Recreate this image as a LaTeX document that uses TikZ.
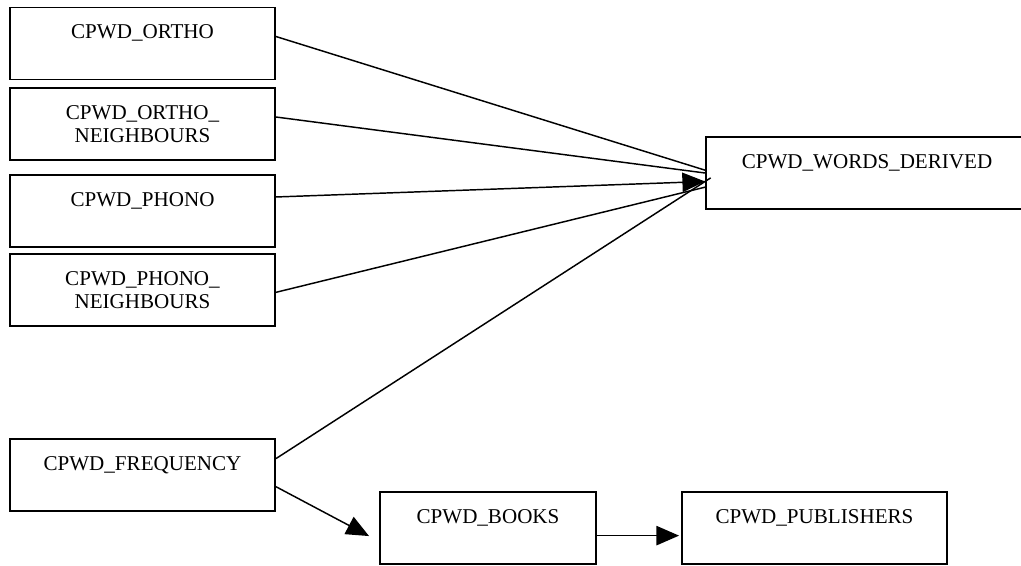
\documentclass[tikz,border=0pt]{standalone}
\usepackage{fontspec}
\setmainfont{Liberation Serif}
\usetikzlibrary{arrows.meta}

\begin{document}
\begin{tikzpicture}[x=0.75pt,y=-0.75pt, % pixel units of the reference
  tbl/.style={draw, line width=1.4pt, inner sep=0pt, align=center,
    minimum width=198.75pt, minimum height=54pt,
    font=\fontsize{15.8pt}{17.25pt}\selectfont},
  lnk/.style={line width=1.1pt},
  arr/.style={lnk, -{Triangle[length=17pt,width=14.5pt]}}]

\useasboundingbox (0,0) rectangle (1021,565);

\node[tbl] (ortho)   at (142.5,43.5) {CPWD\_ORTHO\\\phantom{N}};
\node[tbl] (orthonb) at (142.5,124)  {CPWD\_ORTHO\_\\NEIGHBOURS};
\node[tbl] (phono)   at (142.5,211)  {CPWD\_PHONO\\\phantom{N}};
\node[tbl] (phononb) at (142.5,290)  {CPWD\_PHONO\_\\NEIGHBOURS};
\node[tbl] (freq)    at (142.5,475)  {CPWD\_FREQUENCY\\\phantom{N}};

\node[tbl, minimum width=241.5pt] (derived) at (867,173) {CPWD\_WORDS\_DERIVED\\\phantom{N}};
\node[tbl, minimum width=162pt]   (books)   at (488,528) {CPWD\_BOOKS\\\phantom{N}};
\node[tbl]                        (pubs)    at (814.5,528) {CPWD\_PUBLISHERS\\\phantom{N}};

\draw[lnk] (ortho.3)   -- (derived.179);
\draw[lnk] (orthonb.3.5) -- (derived.west);
\draw[arr] (phono.6)   -- (derived.183);
\draw[lnk] (phononb.-1.3) -- (derived.185);
\draw[lnk, shorten >=-5pt] (freq.7.7) -- (derived.183);

\draw[arr, shorten >=8.5pt] (freq.-5.2) -- (books.187);
\draw[arr, shorten >=1.5pt] (books.-4.8) -- (books.-4.8 -| pubs.west);

\end{tikzpicture}
\end{document}
